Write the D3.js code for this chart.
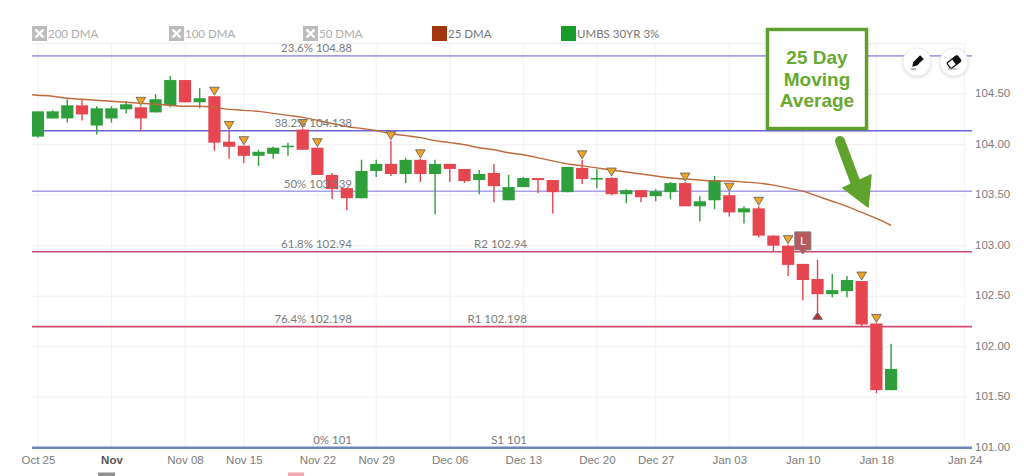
<!DOCTYPE html>
<html>
<head>
<meta charset="utf-8">
<script src="https://cdn.jsdelivr.net/npm/d3@7"></script>
<style>
  body { margin: 0; background: #fff; }
  svg { display: block; font-family: Lato, "Open Sans", sans-serif; }
</style>
</head>
<body>
<svg id="chart" width="1024" height="476"></svg>
<script>
// trading days shown (bond market holidays skipped)
const dates = [
  "2021-10-25","2021-10-26","2021-10-27","2021-10-28","2021-10-29",
  "2021-11-01","2021-11-02","2021-11-03","2021-11-04","2021-11-05",
  "2021-11-08","2021-11-09","2021-11-10","2021-11-12",
  "2021-11-15","2021-11-16","2021-11-17","2021-11-18","2021-11-19",
  "2021-11-22","2021-11-23","2021-11-24","2021-11-26",
  "2021-11-29","2021-11-30","2021-12-01","2021-12-02","2021-12-03",
  "2021-12-06","2021-12-07","2021-12-08","2021-12-09","2021-12-10",
  "2021-12-13","2021-12-14","2021-12-15","2021-12-16","2021-12-17",
  "2021-12-20","2021-12-21","2021-12-22","2021-12-23",
  "2021-12-27","2021-12-28","2021-12-29","2021-12-30","2021-12-31",
  "2022-01-03","2022-01-04","2022-01-05","2022-01-06","2022-01-07",
  "2022-01-10","2022-01-11","2022-01-12","2022-01-13","2022-01-14",
  "2022-01-18","2022-01-19"
];

const open = [
  104.08,104.26,104.26,104.39,104.19,104.26,104.35,104.37,104.32,104.39,
  104.64,104.42,104.48,104.03,103.99,103.89,103.91,103.98,104.15,103.97,
  103.70,103.57,103.47,103.74,103.81,103.71,103.85,103.71,103.81,103.76,
  103.65,103.72,103.45,103.58,103.67,103.65,103.53,103.77,103.66,103.67,
  103.51,103.55,103.49,103.53,103.62,103.39,103.45,103.50,103.33,103.37,
  103.10,103.00,102.82,102.67,102.52,102.55,102.65,102.23,101.57
];
const high = [
  104.33,104.34,104.45,104.44,104.38,104.38,104.43,104.38,104.50,104.68,
  104.64,104.56,104.48,104.14,103.99,103.95,103.98,104.02,104.16,103.97,
  103.72,103.57,103.85,103.85,104.04,103.87,103.86,103.85,103.81,103.76,
  103.75,103.81,103.70,103.68,103.67,103.65,103.78,103.85,103.76,103.68,
  103.56,103.55,103.56,103.63,103.63,103.49,103.69,103.53,103.39,103.39,
  103.10,103.01,102.82,102.86,102.72,102.70,102.65,102.23,102.03
];
const low = [
  104.07,104.26,104.22,104.24,104.10,104.22,104.31,104.13,104.32,104.37,
  104.42,104.36,103.94,103.86,103.82,103.79,103.86,103.89,103.95,103.70,
  103.46,103.35,103.47,103.68,103.69,103.62,103.63,103.31,103.63,103.62,
  103.51,103.43,103.45,103.58,103.52,103.32,103.53,103.61,103.57,103.50,
  103.42,103.43,103.44,103.46,103.39,103.24,103.36,103.29,103.22,103.08,
  102.94,102.70,102.46,102.34,102.49,102.49,102.20,101.54,101.57
];
const close = [
  104.33,104.33,104.39,104.30,104.36,104.36,104.40,104.26,104.45,104.64,
  104.42,104.46,104.02,103.98,103.89,103.93,103.97,103.99,103.95,103.70,
  103.56,103.47,103.74,103.81,103.71,103.85,103.71,103.81,103.76,103.64,
  103.71,103.59,103.58,103.67,103.65,103.53,103.78,103.66,103.67,103.51,
  103.55,103.48,103.54,103.62,103.39,103.44,103.65,103.33,103.37,103.10,
  103.00,102.81,102.66,102.52,102.56,102.66,102.22,101.57,101.78
];

// 25 DMA, first value is the session before the first candle (2021-10-22)
const ma25 = [
  104.50,104.49,104.48,104.46,104.45,104.44,104.43,104.42,104.41,104.40,
  104.39,104.38,104.38,104.37,104.35,104.34,104.33,104.31,104.29,104.27,
  104.24,104.21,104.18,104.16,104.14,104.11,104.09,104.07,104.04,104.02,
  104.00,103.97,103.95,103.92,103.90,103.87,103.84,103.81,103.79,103.77,
  103.75,103.73,103.71,103.69,103.67,103.66,103.65,103.64,103.64,103.63,
  103.62,103.60,103.57,103.54,103.49,103.44,103.39,103.33,103.27,103.20
];

const sellSignals = [
  "2021-11-03","2021-11-10","2021-11-12","2021-11-15","2021-11-19","2021-11-22",
  "2021-11-30","2021-12-02","2021-12-17","2021-12-21","2021-12-29","2022-01-03",
  "2022-01-05","2022-01-07","2022-01-14","2022-01-18"
];
const buySignals = ["2022-01-11"];
const lowMarks = ["2022-01-10"];

const fibPercents = ["23.6%", "38.2%", "50%", "61.8%", "76.4%", "0%"];
const fibValues = [104.88, 104.138, 103.539, 102.94, 102.198, 101];
const pivotNames = ["R2", "R1", "S1"];
const pivotValues = [102.94, 102.198, 101];

const yTicks = [101, 101.5, 102, 102.5, 103, 103.5, 104, 104.5];
const xTickDates = ["2021-10-25","2021-11-01","2021-11-08","2021-11-15","2021-11-22","2021-11-29",
  "2021-12-06","2021-12-13","2021-12-20","2021-12-27","2022-01-03","2022-01-10","2022-01-18","2022-01-24"];
const xTickLabels = ["Oct 25","Nov","Nov 08","Nov 15","Nov 22","Nov 29",
  "Dec 06","Dec 13","Dec 20","Dec 27","Jan 03","Jan 10","Jan 18","Jan 24"];

const legendNames = ["200 DMA", "100 DMA", "50 DMA", "25 DMA", "UMBS 30YR 3%"];

// ---------------------------------------------------------------

const svg = d3.select("#chart");
const L = 32, R = 972, T = 43.7, B = 447.7;

// days past the last session are counted in calendar days
function idxOf(d) {
  const i = dates.indexOf(d);
  if (i >= 0) return i;
  const last = dates.length - 1;
  return last + Math.round((new Date(d) - new Date(dates[last])) / 864e5);
}

const x = d3.scaleLinear().domain([-0.4, 63.5]).range([L, R]);
const y = d3.scaleLinear().domain([101, 105]).range([B, T]);

const GREEN = "#2e9f3b", RED = "#e5464f";
const TXT = "#7b7b7b";

svg.append("defs").append("clipPath").attr("id", "plot")
  .append("rect").attr("x", L).attr("y", T).attr("width", R - L).attr("height", B - T);

const shadow = svg.select("defs").append("filter").attr("id", "shadow")
  .attr("x", "-30%").attr("y", "-30%").attr("width", "160%").attr("height", "160%");
shadow.append("feDropShadow").attr("dx", 0).attr("dy", 1).attr("stdDeviation", 1.5)
  .attr("flood-color", "#000").attr("flood-opacity", 0.18);

// grid
const grid = svg.append("g");
grid.append("line").attr("x1", L).attr("x2", R - 6).attr("y1", T).attr("y2", T)
  .attr("stroke", "#eeeeee");
grid.selectAll(".hg").data(yTicks).enter().append("line")
  .attr("x1", L).attr("x2", R - 6)
  .attr("y1", d => y(d)).attr("y2", d => y(d))
  .attr("stroke", "#efefef");
grid.selectAll(".vg").data(xTickDates).enter().append("line")
  .attr("x1", d => x(idxOf(d))).attr("x2", d => x(idxOf(d)))
  .attr("y1", T).attr("y2", B)
  .attr("stroke", "#f1f1f1");

// fibonacci / pivot levels
const levelColor = { "23.6%": "#a7a0e6", "38.2%": "#6a66d8", "50%": "#a7a0e6",
  "61.8%": "#d04a70", "76.4%": "#d04a70", "0%": "#6d86b8" };
const levels = svg.append("g");
levels.selectAll("line").data(fibValues).enter().append("line")
  .attr("x1", L).attr("x2", R)
  .attr("y1", d => y(d)).attr("y2", d => y(d))
  .attr("stroke", (d, i) => levelColor[fibPercents[i]])
  .attr("stroke-width", (d, i) => fibPercents[i] === "0%" ? 2.6 : 1.7);

// tool buttons over the top level line
const tools = svg.append("g");
[917, 954].forEach((cx, k) => {
  const g = tools.append("g").attr("transform", `translate(${cx},62)`);
  g.append("circle").attr("r", 14).attr("fill", "#fff").attr("stroke", "#ececec")
    .attr("filter", "url(#shadow)");
  if (k === 0) {
    const p = g.append("g").attr("transform", "rotate(45)");
    p.append("path").attr("d", "M-2.6,-7 h5.2 v9.5 l-2.6,4.3 l-2.6,-4.3 z").attr("fill", "#111");
    g.append("line").attr("x1", -6).attr("x2", -1).attr("y1", 7).attr("y2", 7)
      .attr("stroke", "#555").attr("stroke-width", 0.8);
  } else {
    const e = g.append("g").attr("transform", "rotate(-38)");
    e.append("rect").attr("x", -6.5).attr("y", -3.6).attr("width", 13).attr("height", 7.2)
      .attr("rx", 1.6).attr("fill", "#fff").attr("stroke", "#111").attr("stroke-width", 1.3);
    e.append("rect").attr("x", 0).attr("y", -3.6).attr("width", 6.5).attr("height", 7.2)
      .attr("rx", 1.2).attr("fill", "#111");
    g.append("line").attr("x1", -6).attr("x2", 3).attr("y1", 7).attr("y2", 7)
      .attr("stroke", "#777").attr("stroke-width", 0.8);
  }
});

// candles
const bw = (x(1) - x(0)) * 0.83;
const candles = svg.append("g").attr("clip-path", "url(#plot)");
const idx = d3.range(dates.length);
candles.selectAll(".wick").data(idx).enter().append("line")
  .attr("x1", i => x(i)).attr("x2", i => x(i))
  .attr("y1", i => y(high[i])).attr("y2", i => y(low[i]))
  .attr("stroke", i => close[i] >= open[i] ? GREEN : RED)
  .attr("stroke-width", 1.4);
candles.selectAll(".body").data(idx).enter().append("rect")
  .attr("x", i => x(i) - bw / 2).attr("width", bw)
  .attr("y", i => y(Math.max(open[i], close[i])))
  .attr("height", i => Math.max(1.5, Math.abs(y(open[i]) - y(close[i]))))
  .attr("fill", i => close[i] >= open[i] ? GREEN : RED);

// 25 DMA
const maLine = d3.line().x((d, i) => x(i - 1)).y(d => y(d)).curve(d3.curveMonotoneX);
candles.append("path").datum(ma25).attr("d", maLine)
  .attr("fill", "none").attr("stroke", "#bf6a3c").attr("stroke-width", 1.4);

// signal markers
const marks = svg.append("g");
marks.selectAll(".sell").data(sellSignals).enter().append("path")
  .attr("transform", d => { const i = idxOf(d); return `translate(${x(i)},${y(high[i]) - 1})`; })
  .attr("d", "M0,0 L-4.8,-8 L4.8,-8 Z")
  .attr("fill", "#f5a51d").attr("stroke", "#666").attr("stroke-width", 0.9);
marks.selectAll(".buy").data(buySignals).enter().append("path")
  .attr("transform", d => { const i = idxOf(d); return `translate(${x(i)},${y(low[i])})`; })
  .attr("d", "M0,0 L-4.8,7 L4.8,7 Z")
  .attr("fill", "#b83232").attr("stroke", "#666").attr("stroke-width", 0.9);
const lm = marks.selectAll(".lm").data(lowMarks).enter().append("g")
  .attr("transform", d => { const i = idxOf(d); return `translate(${x(i)},${y(high[i]) - 10})`; });
lm.append("path").attr("d", "M-8,-4 V-22 H8 V-4 H3 L0,0 L-3,-4 Z")
  .attr("fill", "#b85a5c").attr("stroke", "#7a7a7a").attr("stroke-width", 1);
lm.append("text").attr("y", -8.5).attr("text-anchor", "middle")
  .attr("fill", "#fff").attr("font-size", 11.5).text("L");

// level labels
const lab = svg.append("g").attr("font-size", 11.5).attr("fill", TXT).attr("text-anchor", "end");
lab.selectAll(".fib").data(fibValues).enter().append("text")
  .attr("x", 352).attr("y", d => y(d) - 3.5)
  .text((d, i) => `${fibPercents[i]} ${d}`);
lab.selectAll(".piv").data(pivotValues).enter().append("text")
  .attr("x", 527).attr("y", d => y(d) - 3.5)
  .text((d, i) => `${pivotNames[i]} ${d}`);

// axes
const yAxis = svg.append("g").attr("transform", `translate(${R},0)`)
  .call(d3.axisRight(y).tickValues(yTicks).tickFormat(d3.format(".2f")).tickSize(0).tickPadding(3));
yAxis.select(".domain").remove();
yAxis.selectAll("text").attr("fill", TXT).attr("font-size", 11.5).attr("font-family", null)
  .attr("dy", "0.2em");

const xAxis = svg.append("g").attr("transform", `translate(0,${B})`)
  .call(d3.axisBottom(x).tickValues(xTickDates.map(idxOf))
    .tickFormat((d, i) => xTickLabels[i]).tickSize(0).tickPadding(8));
xAxis.select(".domain").remove();
xAxis.selectAll("text").attr("fill", TXT).attr("font-size", 11.5).attr("font-family", null)
  .filter((d, i) => xTickLabels[i] === "Nov").attr("font-weight", "bold").attr("fill", "#555");

// legend
const legendX = [32, 169, 303, 432, 561];
const leg = svg.append("g").attr("font-size", 11.5);
legendNames.forEach((name, i) => {
  const g = leg.append("g").attr("transform", `translate(${legendX[i]},26)`);
  if (i < 3) {
    g.append("rect").attr("width", 15).attr("height", 15).attr("fill", "#bcbcbc");
    g.append("path").attr("d", "M3.5,3.5 L11.5,11.5 M11.5,3.5 L3.5,11.5")
      .attr("stroke", "#fff").attr("stroke-width", 2.4);
  } else {
    g.append("rect").attr("width", 15).attr("height", 15)
      .attr("fill", i === 3 ? "#a1360f" : "#179b2b");
  }
  g.append("text").attr("x", 16).attr("y", 11.5)
    .attr("fill", i < 3 ? "#adadad" : "#777").text(name);
});

// partially visible legend below the frame
svg.append("rect").attr("x", 98).attr("y", 472.5).attr("width", 17).attr("height", 6).attr("fill", "#8f8f8f");
svg.append("rect").attr("x", 288).attr("y", 472.5).attr("width", 16).attr("height", 6).attr("fill", "#f2a6b0");

// annotation
const ann = svg.append("g");
ann.append("rect").attr("x", 767.5).attr("y", 29.5).attr("width", 99).attr("height", 99)
  .attr("fill", "#fff").attr("stroke", "#5e9f2d").attr("stroke-width", 3.4)
  .attr("filter", "url(#shadow)");
ann.selectAll("text").data(["25 Day", "Moving", "Average"]).enter().append("text")
  .attr("x", 817).attr("y", (d, i) => 64 + i * 21.5)
  .attr("text-anchor", "middle")
  .attr("font-family", "'Liberation Sans', Arial, sans-serif")
  .attr("font-weight", "bold").attr("font-size", 19).attr("fill", "#68a92f")
  .text(d => d);
ann.append("line").attr("x1", 840).attr("y1", 141).attr("x2", 856).attr("y2", 184)
  .attr("stroke", "#5fa22c").attr("stroke-width", 10).attr("stroke-linecap", "round");
ann.append("path").attr("d", "M843,188 L871,175 L868,207 Z").attr("fill", "#5fa22c")
  .attr("stroke", "#5fa22c").attr("stroke-linejoin", "round").attr("stroke-width", 1.5);
</script>
</body>
</html>
